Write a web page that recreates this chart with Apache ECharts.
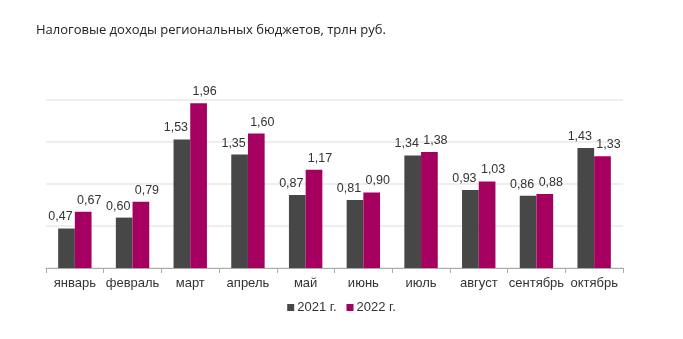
<!DOCTYPE html>
<html><head><meta charset="utf-8">
<script src="https://cdn.jsdelivr.net/npm/echarts@6/dist/echarts.min.js"></script>
<style>html,body{margin:0;padding:0;background:#fff}#c{width:683px;height:339px}</style>
</head><body><div id="c"></div>
<script>
const categories = ['январь','февраль','март','апрель','май','июнь','июль','август','сентябрь','октябрь'];
const series2021 = [0.47,0.60,1.53,1.35,0.87,0.81,1.34,0.93,0.86,1.43];
const series2022 = [0.67,0.79,1.96,1.60,1.17,0.90,1.38,1.03,0.88,1.33];
const names = ['2021 г.','2022 г.'];
const chart = echarts.init(document.getElementById('c'));
const fmt = p => p.value.toFixed(2).replace('.', ',');
const FF = 'Liberation Sans, Arial, sans-serif';
const lbl = (dx) => ({show:true,position:'top',distance:5,offset:[dx,0],formatter:fmt,color:'#333',fontSize:12.5,fontFamily:FF});
chart.setOption({
  animation:false,
  title:{text:'Налоговые доходы региональных бюджетов, трлн руб.',left:31,top:19,textStyle:{fontSize:13,fontWeight:'normal',color:'#222',fontFamily:'Open Sans, sans-serif'}},
  legend:{bottom:20,left:'center',itemWidth:7,itemHeight:7,itemGap:10,icon:'rect',textStyle:{fontSize:13,color:'#333',fontFamily:FF,padding:[0,0,0,-2]},data:names},
  grid:{left:46,right:60,top:100,bottom:71},
  xAxis:{type:'category',data:categories,axisLine:{lineStyle:{color:'#aaa'}},axisTick:{show:true,length:5,interval:0,lineStyle:{color:'#aaa'}},axisLabel:{interval:0,color:'#333',fontSize:13,margin:9,fontFamily:FF}},
  yAxis:{type:'value',min:0,max:2,interval:0.5,axisLabel:{show:false},axisLine:{show:false},axisTick:{show:false},splitLine:{lineStyle:{color:'#eeeeee',width:2}}},
  series:[
    {name:names[0],type:'bar',data:series2021,barWidth:16.7,barGap:'0%',itemStyle:{color:'#474747'},label:lbl(-6)},
    {name:names[1],type:'bar',data:series2022,barWidth:16.7,itemStyle:{color:'#a5005f'},label:lbl(6)}
  ]
});
</script></body></html>
